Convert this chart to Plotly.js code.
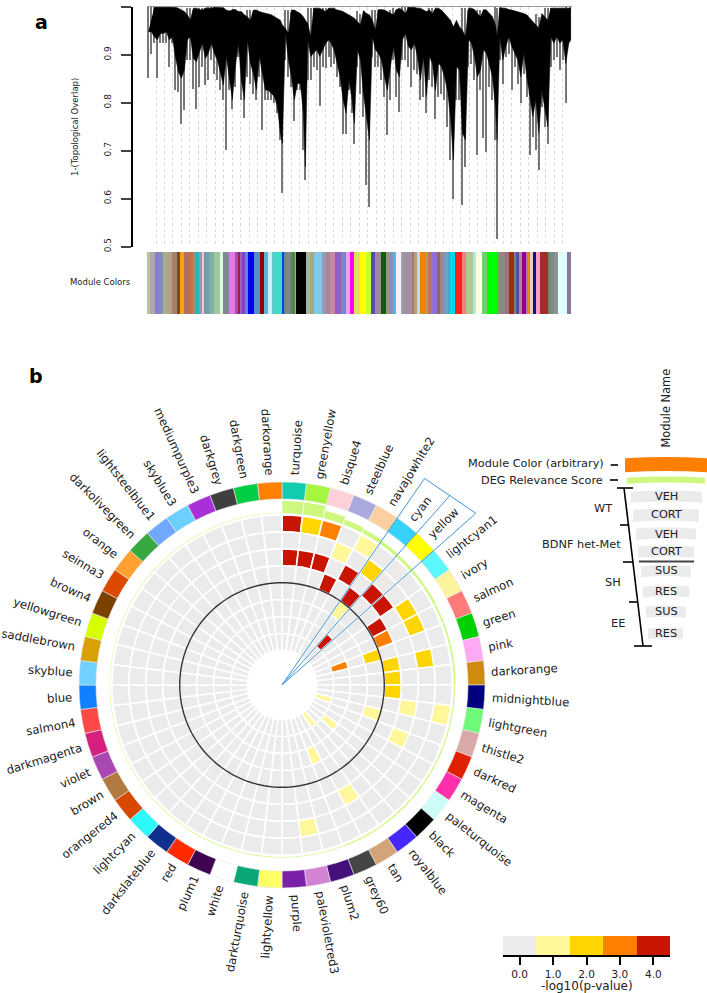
<!DOCTYPE html>
<html>
<head>
<meta charset="utf-8">
<script src="https://cdn.plot.ly/plotly-3.0.1.min.js"></script>
<style>html,body{margin:0;padding:0;background:#fff}</style>
</head>
<body>
<div id="chart" style="width:707px;height:993px"></div>
<script>
// panel a: dendrogram, read column by column (leaf position, top of branches, bottom of solid part, tip)
const dendroLeaf = [4,13,22,31,40,49,58,67,76,85,94,103,112,121,130,139,148,157,166,175,184,193,202,211,220,229,238,247,256,265,274,283,292,301,310,319,328,337,346,355,364,373,382,391,400,406,415,424,433,442,451,460,469,475,482,491,500,509,518,527,536,545,
  552,561,570,579,588,597,606,615,622,631,640,649,658,667,676,685,694,703,712,721,730,739,748,757,766,775,784,793,802,811,820,829,838,847,856,865,874,883,892,901,910,919,928,937,946,955,964,973,982,991,1000,1009,1018,1027,1036,1045,1050,1058,1067,1076,1085,1094,1103,1112,1121,1130,1139,1148,1157,1166,1175,1184,1193,1202,1211,1220,1229,1238,1247,1256,1265,1271];
const dendroTop = [.999,.999,.999,.999,.999,.999,.999,.999,.997,.994,.99,.983,.972,.997,.997,.994,.993,.997,.997,.997,.999,.999,.999,.998,.993,.99,.994,.994,.99,.99,.983,.979,.972,.993,.993,.99,.988,.986,.985,.983,.979,.976,.972,.962,.955,.944,.993,.993,.99,.986,.979,.972,.965,.9375,.997,.997,.997,.994,.99,.997,.997,.997,
  .993,.992,.99,.986,.983,.979,.976,.969,.962,.992,.986,.983,.972,.951,.994,.994,.993,.99,.986,.983,.994,.997,.993,.986,.999,.999,.999,.997,.997,.994,.99,.993,.986,.997,.997,.993,.986,.979,.972,.958,.972,.958,.951,.9375,.997,.997,.994,.986,.979,.994,.993,.986,.979,.962,.9375,.999,.997,.997,.994,.993,.992,.99,.988,.986,.983,.976,.969,.962,.955,.986,.979,.972,.997,.997,.997,.997,.997,.997,.997,.999];
const dendroBody = [.948,.948,.9375,.931,.944,.944,.948,.931,.9375,.896,.865,.851,.868,.931,.9375,.892,.885,.903,.924,.892,.903,.924,.903,.889,.861,.837,.896,.847,.806,.875,.924,.847,.806,.931,.882,.861,.826,.896,.861,.826,.826,.819,.8125,.792,.736,.715,.944,.889,.854,.806,.84,.84,.778,.667,.931,.896,.903,.91,.896,.91,.924,.931,
  .924,.91,.882,.854,.806,.778,.847,.806,.757,.91,.889,.819,.771,.722,.9375,.91,.903,.889,.854,.826,.875,.917,.868,.854,.931,.944,.917,.91,.924,.896,.847,.896,.8125,.896,.882,.826,.882,.875,.854,.826,.771,.681,.875,.868,.736,.722,.931,.924,.896,.854,.868,.91,.903,.875,.854,.792,.722,.9375,.889,.917,.9375,.917,.903,.889,.854,.903,.854,.8125,.771,.806,.736,.826,.792,.75,.9375,.924,.9375,.924,.931,.882,.924,.931];
const dendroTip = [.851,.903,.924,.851,.924,.924,.924,.875,.924,.826,.823,.757,.785,.889,.889,.83,.788,.833,.875,.837,.847,.889,.861,.847,.826,.806,.701,.826,.788,.833,.896,.806,.769,.854,.84,.819,.806,.854,.743,.806,.806,.806,.799,.778,.722,.6125,.889,.854,.833,.7625,.826,.826,.701,.64,.847,.847,.875,.868,.793,.875,.872,.896,
  .875,.882,.854,.833,.736,.736,.826,.778,.715,.875,.819,.771,.628,.583,.896,.875,.875,.847,.8125,.733,.806,.889,.8125,.781,.889,.889,.875,.833,.868,.861,.806,.8125,.778,.847,.833,.767,.8125,.819,.806,.75,.681,.6,.806,.806,.587,.667,.875,.882,.847,.691,.826,.726,.698,.833,.806,.722,.517,.889,.84,.896,.903,.826,.875,.84,.799,.861,.8125,.691,.729,.701,.66,.792,.75,.715,.875,.889,.896,.868,.889,.799,.844,.903];

// colour strip under the dendrogram
const bandWidths = [8,16,12,12,12,16,14,10,12,14,12,5,13,8,8,6,8,16,16,10,18,18,10,4,6,10,10,16,20,12,12,10,8,24,4,8,10,8,8,4,28,12,14,22,12,12,16,18,6,8,12,14,16,
  18,16,12,18,14,12,10,8,16,6,26,6,10,10,14,8,12,16,10,12,12,6,14,22,10,22,10,16,16,30,6,18,12,14,6,10,8,12,6,8,8,10,10,24,6,14,10,26,12];
const bandColors = ['#b5c98f','#b0a8b0','#8580c8','#7f90b0','#a8b088','#b0a090','#a8806a','#7a4a20','#ffa010','#b07060','#c87040','#909090','#20b8b8','#909aa0','#e8c8e8','#8090a8','#70a0a0','#80b0a8','#a0c8a0','#e0f8e0','#808898','#e878e8','#a050c0','#a02040','#a060b0','#8040c8','#5090d0','#0000f0','#5090c8','#900000','#60b0d8','#d0f0f0','#60c8c8','#40d8c8','#1040e0','#6088a0','#808880','#608878','#508840','#90c070','#000000','#a8b0a0','#a8a878','#80c8e8','#909cb0','#a08898','#c888a0','#9060c0','#8880c0','#7088d8','#f0a0f0','#ff00ff','#e0e060',
  '#ffff00','#c0ff30','#5050b0','#a08898','#006400','#a09080','#8090c0','#60b0e0','#f8f0ff','#a0a0b0','#a090a0','#c07060','#b0a080','#c0d8e8','#f08010','#b0a040','#c07070','#9070d8','#886868','#a08880','#70a0c8','#50a0c0','#00d8f0','#ff2020','#f08080','#b0c890','#b0e8e8','#ffffe0','#70d070','#00ff00','#70a870','#908880','#a07080','#983010','#808080','#5050a0','#c080a0','#900090','#c070b0','#f08010','#e0d0c0','#101080','#f8a0c0','#a52a2a','#808060','#709090','#909090','#e0ffff','#8878a0'];

// panel b: 52 modules clockwise from 12 o'clock
const moduleNames = ['turquoise','greenyellow','bisque4','steelblue','navajowhite2','cyan','yellow','lightcyan1','ivory','salmon','green','pink','darkorange','midnightblue','lightgreen','thistle2','darkred','magenta','paleturquoise','black','royalblue','tan','grey60','plum2','palevioletred3','purple','lightyellow','darkturquoise','white','plum1','red','darkslateblue','lightcyan','orangered4','brown','violet','darkmagenta','salmon4','blue','skyblue','saddlebrown','yellowgreen','brown4','seinna3','orange','darkolivegreen','lightsteelblue1','skyblue3','mediumpurple3','darkgrey','darkgreen','darkorange'];
const moduleColors = ['#10cdaf','#a6f53f','#ffd0d8','#a9a9de','#fdcfa0','#35d2fb','#ffff00','#5cf6ff','#fdf39c','#ff7b7b','#00d000','#ffa9f5','#cf8a10','#000080','#6cfa78','#d9a8a8','#e02000','#ff2eaa','#ccfbf8','#000000','#4428ff','#d2a478','#454545','#44107a','#d482d4','#7a20aa','#ffff66','#0aa878','#ffffff','#3f0550','#ff2a00','#103090','#2cfafa','#d84800','#b07a40','#a848b0','#d62080','#ff4848','#0f80ff','#70d0ff','#d8a000','#d8ff00','#7a4000','#dc4a00','#ffa030','#38a840','#70a8ff','#6cd0ff','#a830d8','#3f3f3f','#00cc44','#ff8000'];
const degScores = [13,13,8.5,6,5,4,3.5,3,3,2.5,2.5,2.5,2.5,2,2,2,2,2,2,2,2,2,2,1.5,1.5,1.5,1.5,1.5,1.5,1.5,1.5,1.2,1.2,1.2,1.2,1.2,1.2,1.2,1.2,1.2,1.2,1.2,1.2,1.2,1.2,1.2,1.2,1.2,1.2,1.2,1.2,1.2];

const wtVeh =   [4,2,3,0,1,0,0,0,0,0,0,0,0, 0,1,0,0,0,0,0,0,0,0,0,0,0, 0,0,0,0,0,0,0,0,0,0,0,0,0, 0,0,0,0,0,0,0,0,0,0,0,0,0];
const wtCort =  [0,0,0,1,0,2,0,0,2,2,0,2,0, 0,0,0,0,0,0,0,0,0,0,0,1,0, 0,0,0,0,0,0,0,0,0,0,0,0,0, 0,0,0,0,0,0,0,0,0,0,0,0,0];
const metVeh =  [4,4,4,0,4,0,4,4,0,0,0,0,0, 0,1,0,1,0,0,0,0,1,0,0,0,0, 0,0,0,0,0,0,0,0,0,0,0,0,0, 0,0,0,0,0,0,0,0,0,0,0,0,0];
const metCort = [0,0,0,4,0,4,0,0,4,3,0,2,2, 2,0,0,0,0,0,0,0,0,0,0,0,0, 0,0,0,0,0,0,0,0,0,0,0,0,0, 0,0,0,0,0,0,0,0,0,0,0,0,0];
const shSus =   [0,0,0,0,0,1,0,0,0,0,2,0,0, 0,0,1,0,0,0,0,0,0,0,0,0,0, 0,0,0,0,0,0,0,0,0,0,0,0,0, 0,0,0,0,0,0,0,0,0,0,0,0,0];
const shRes =   [0,0,0,0,0,0,0,0,0,0,0,0,0, 0,0,0,0,0,0,0,0,0,1,0,0,0, 0,0,0,0,0,0,0,0,0,0,0,0,0, 0,0,0,0,0,0,0,0,0,0,0,0,0];
const eeSus =   [0,0,0,0,0,0,4,0,0,0,3,0,0, 0,0,0,0,0,1,0,0,0,0,0,0,0, 0,0,0,0,0,0,0,0,0,0,0,0,0, 0,0,0,0,0,0,0,0,0,0,0,0,0];
const eeRes =   [0,0,0,0,0,0,0,0,0,0,0,0,0, 0,0,1,0,0,0,0,1,0,0,0,0,0, 0,0,0,0,0,0,0,0,0,0,0,0,0, 0,0,0,0,0,0,0,0,0,0,0,0,0];
const heatRows = [wtVeh, wtCort, metVeh, metCort, shSus, shRes, eeSus, eeRes];

const levelColors = ['#ebebeb', '#fff799', '#ffd500', '#ff8000', '#c81400'];
const levelTicks = ['0.0', '1.0', '2.0', '3.0', '4.0'];

const W = 707, H = 993;
const FONT = '"DejaVu Sans", Verdana, sans-serif';
const CX = 282, CY = 685, POLAR_R = 260;
const STEP = 360 / moduleNames.length;
const RING_IN = 34.5, ROW_H = 16.94;

const fx = (x) => x / W;
const fy = (y) => 1 - y / H;
const thetas = moduleNames.map((_, i) => (i + 0.5) * STEP);

const traces = [];

// dendrogram: thin tips first, then the solid mass as one filled outline
traces.push({
  type: 'bar', x: dendroLeaf, base: dendroTip, y: dendroTip.map((v, i) => dendroTop[i] - v),
  width: 4, marker: { color: '#777777', line: { width: 0 } }, hoverinfo: 'skip'
});
traces.push({
  type: 'scatter', mode: 'lines', fill: 'toself', fillcolor: '#000000',
  x: dendroLeaf.concat([...dendroLeaf].reverse()),
  y: dendroBody.concat([...dendroTop].reverse()),
  line: { color: '#000000', width: 0.5 }, hoverinfo: 'skip'
});

// module colour strip
let bandPos = 0;
const bandLeft = bandWidths.map((w) => { const left = bandPos; bandPos += w; return left; });
traces.push({
  type: 'bar', x: bandLeft, y: bandWidths.map(() => 1), width: bandWidths, offset: 0,
  yaxis: 'y2', marker: { color: bandColors, line: { width: 0 } }, hoverinfo: 'skip'
});

// heat rings, outermost row first
heatRows.forEach((row, k) => {
  traces.push({
    type: 'barpolar', theta: thetas, r: row.map(() => ROW_H), base: row.map(() => RING_IN + (7 - k) * ROW_H),
    width: STEP, marker: { color: row.map((v) => levelColors[v]), line: { color: '#ffffff', width: 1.6 } }, hoverinfo: 'skip'
  });
});

// DEG relevance ring
traces.push({
  type: 'barpolar', theta: thetas, r: degScores, base: degScores.map(() => 171.5), width: STEP,
  marker: { color: '#cdf77f', line: { color: '#ffffff', width: 0.8 } }, hoverinfo: 'skip'
});

// module colour ring
traces.push({
  type: 'barpolar', theta: thetas, r: moduleNames.map(() => 17), base: moduleNames.map(() => 186), width: STEP,
  marker: { color: moduleColors, line: { color: '#e8e8e8', width: 0.6 } }, hoverinfo: 'skip'
});

// black ring between the two groups of rows
const circleTheta = [];
for (let t = 0; t <= 360; t += 2) circleTheta.push(t);
traces.push({
  type: 'scatterpolar', mode: 'lines', theta: circleTheta, r: circleTheta.map(() => RING_IN + 4 * ROW_H),
  line: { color: '#333333', width: 1.4 }, hoverinfo: 'skip'
});

// blue outline around cyan and yellow
traces.push({
  type: 'scatterpolar', mode: 'lines', r: [0, 251, 259, 0], theta: [0, 5 * STEP, 7 * STEP, 0],
  line: { color: '#3f94d6', width: 1 }, hoverinfo: 'skip'
});
traces.push({
  type: 'scatterpolar', mode: 'lines', r: [0, 254], theta: [0, 6 * STEP],
  line: { color: '#3f94d6', width: 1 }, hoverinfo: 'skip'
});

// p-value key
traces.push({
  type: 'heatmap', z: [[0, 1, 2, 3, 4]], x: [0, 1, 2, 3, 4], y: [0], xaxis: 'x3', yaxis: 'y3',
  zmin: -0.5, zmax: 4.5, showscale: false, hoverinfo: 'skip', xgap: 0,
  colorscale: levelColors.flatMap((c, i) => [[i / 5, c], [(i + 1) / 5, c]])
});

// text
function note(text, x, y, size, opts) {
  return Object.assign({
    text: text, x: fx(x), y: fy(y), xref: 'paper', yref: 'paper', showarrow: false,
    font: { family: FONT, size: size, color: '#222222' }, xanchor: 'center', yanchor: 'middle'
  }, opts || {});
}

const annotations = [
  note('<b>a</b>', 41, 22, 19, { font: { family: FONT, size: 19, color: '#000' } }),
  note('<b>b</b>', 36, 376, 19, { font: { family: FONT, size: 19, color: '#000' } }),
  note('1-(Topological Overlap)', 75, 127, 8.5, { textangle: -90 }),
  note('Module Colors', 100.5, 282, 8.5),
  note('Module Name', 666, 408.5, 11.4, { textangle: -90 }),
  note('Module Color (arbitrary)', 606, 464, 11.3, { xanchor: 'right' }),
  note('DEG Relevance Score', 605, 480, 11.3, { xanchor: 'right' }),
  note('WT', 603, 508, 11.3),
  note('BDNF het-Met', 581, 544, 11.3),
  note('SH', 613, 582, 11.3),
  note('EE', 618, 623, 11.3),
  note('VEH', 666, 496, 11.3),
  note('CORT', 666, 514, 11.3),
  note('VEH', 666, 534, 11.3),
  note('CORT', 666, 551, 11.3),
  note('SUS', 666, 570, 11.3),
  note('RES', 666, 591, 11.3),
  note('SUS', 666, 611, 11.3),
  note('RES', 666, 633, 11.3),
  note('-log10(p-value)', 586.5, 986, 12)
];

// module names run along the radius, start just outside the ring
const LABEL_SIZE = 11.7;
const ctx = document.createElement('canvas').getContext('2d');
ctx.font = LABEL_SIZE + 'px "DejaVu Sans"';
moduleNames.forEach((name, i) => {
  const theta = thetas[i];
  const rad = theta * Math.PI / 180;
  const r = 210 + ctx.measureText(name).width / 2;
  annotations.push(note(name, CX + r * Math.sin(rad), CY - r * Math.cos(rad), LABEL_SIZE, {
    textangle: theta < 180 ? theta - 90 : theta - 270
  }));
});

// schematic on the right
const line = (x0, y0, x1, y1, width, color) => ({
  type: 'line', xref: 'paper', yref: 'paper', x0: fx(x0), y0: fy(y0), x1: fx(x1), y1: fy(y1),
  line: { color: color || '#000000', width: width }
});
const arc = (x0, x1, y0, y1, color) => ({
  type: 'path', xref: 'paper', yref: 'paper', fillcolor: color, line: { width: 0 },
  path: 'M ' + fx(x0) + ' ' + fy(y0 + 1.2) + ' Q ' + fx((x0 + x1) / 2) + ' ' + fy(y0 - 1.2) + ' ' + fx(x1) + ' ' + fy(y0 + 1.2) +
    ' L ' + fx(x1) + ' ' + fy(y1 + 1.2) + ' Q ' + fx((x0 + x1) / 2) + ' ' + fy(y1 - 1.2) + ' ' + fx(x0) + ' ' + fy(y1 + 1.2) + ' Z'
});

const shapes = [
  arc(625, 707, 457, 471, '#ff8000'),
  arc(627, 705, 476.5, 482.5, '#cdf77f'),
  arc(631, 702, 490.5, 501.5, '#ebebeb'),
  arc(633, 699, 508.5, 520.5, '#ebebeb'),
  arc(636, 696, 527.5, 538.5, '#ebebeb'),
  arc(638, 694, 545.5, 556.5, '#ebebeb'),
  arc(641, 691, 565, 576, '#ebebeb'),
  arc(643, 689, 585.5, 596, '#ebebeb'),
  arc(646, 686, 605.5, 616.5, '#ebebeb'),
  arc(648, 683, 627.5, 638, '#ebebeb'),
  line(639, 561.5, 694, 561.5, 2.2, '#444444'),
  line(624, 488, 643, 646, 1.6),
  line(617, 488, 633, 488, 1.6),
  line(620, 525, 628, 525, 1.6),
  line(623, 562, 633, 562, 1.6),
  line(629, 602, 638, 602, 1.6),
  line(634, 646, 652, 646, 1.6),
  line(610.7, 465, 618, 465, 1.6),
  line(610, 480, 618, 480, 1.6)
];

const layout = {
  width: W, height: H, margin: { l: 0, r: 0, t: 0, b: 0 }, autosize: false,
  paper_bgcolor: '#ffffff', plot_bgcolor: 'rgba(0,0,0,0)', showlegend: false, barmode: 'overlay', bargap: 0,
  font: { family: FONT, size: 8.5, color: '#222222' },
  xaxis: {
    domain: [fx(147), fx(571.5)], range: [0, 1273], anchor: 'y', side: 'top', fixedrange: true,
    showline: true, linecolor: '#999999', linewidth: 1, zeroline: false, showticklabels: false, ticks: '',
    showgrid: true, gridcolor: '#d8d8d8', gridwidth: 1, griddash: 'dot', tick0: 27, dtick: 25.4
  },
  yaxis: {
    domain: [fy(246.5), fy(6.7)], range: [0.5, 1], anchor: 'free', position: fx(132), side: 'left',
    showline: true, linecolor: '#000000', linewidth: 1.5, ticks: 'outside', ticklen: 10, tickwidth: 1.5,
    tickvals: [0.5, 0.6, 0.7, 0.8, 0.9, 1.0], ticktext: ['0.5', '0.6', '0.7', '0.8', '0.9', '1.0'],
    tickangle: -90, tickfont: { size: 9, color: '#222222' }, showgrid: false, zeroline: false, ticklabelstandoff: 7
  },
  yaxis2: { domain: [fy(314), fy(252)], range: [0, 1], anchor: 'x', visible: false },
  xaxis3: {
    domain: [fx(503), fx(670)], range: [-0.5, 4.5], anchor: 'y3', side: 'bottom',
    showline: true, linecolor: '#000000', linewidth: 2, ticks: 'outside', ticklen: 8, tickwidth: 2, tickcolor: '#000000',
    tickvals: [0, 1, 2, 3, 4], ticktext: levelTicks, tickfont: { size: 10.5, color: '#222222' },
    showgrid: false, zeroline: false
  },
  yaxis3: { domain: [fy(955), fy(936)], range: [-0.5, 0.5], anchor: 'x3', visible: false },
  polar: {
    domain: { x: [fx(CX - POLAR_R), fx(CX + POLAR_R)], y: [fy(CY + POLAR_R), fy(CY - POLAR_R)] },
    bgcolor: 'rgba(0,0,0,0)', barmode: 'overlay',
    radialaxis: { visible: false, range: [0, POLAR_R] },
    angularaxis: { direction: 'clockwise', rotation: 90, thetaunit: 'degrees', showgrid: false, showline: false, showticklabels: false, ticks: '' }
  },
  annotations: annotations,
  shapes: shapes
};

Plotly.newPlot('chart', traces, layout, { displayModeBar: false, responsive: false });
</script>
</body>
</html>
